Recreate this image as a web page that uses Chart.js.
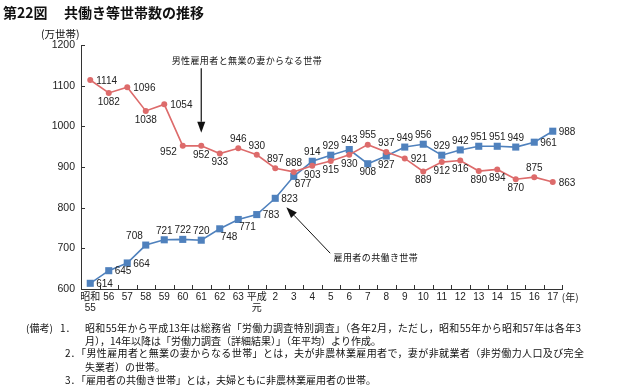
<!DOCTYPE html>
<html><head><meta charset="utf-8">
<script src="https://cdn.jsdelivr.net/npm/chart.js@4"></script>
<style>
html,body{margin:0;padding:0;background:#fff;}
#wrap{position:relative;width:624px;height:391px;overflow:hidden;font-family:"Noto Sans CJK JP",sans-serif;color:#111;}
canvas{position:absolute;left:0;top:0;}
.t{position:absolute;white-space:nowrap;line-height:1;}
.j{position:absolute;text-align:justify;text-align-last:justify;line-height:12px;font-size:10px;height:12px;overflow:visible;}
.n{position:absolute;white-space:nowrap;line-height:12px;font-size:10px;}
</style></head><body>
<div id="wrap">
<canvas id="c" width="624" height="391"></canvas>
<div class="t" style="left:3px;top:5px;font-size:14px;font-weight:bold;">第22図</div>
<div class="t" style="left:64px;top:5px;font-size:14px;font-weight:bold;">共働き等世帯数の推移</div>
<div class="t" style="left:41px;top:29px;font-size:10.5px;">(万世帯)</div>
<div class="n" style="left:26px;top:322px;">(備考)</div>
<div class="n" style="left:60px;top:322px;">1．</div>
<div class="j" style="left:85px;top:322px;width:496px;">昭和55年から平成13年は総務省「労働力調査特別調査」（各年2月，ただし，昭和55年から昭和57年は各年3</div>
<div class="n" style="left:85px;top:335px;">月），14年以降は「労働力調査（詳細結果）」（年平均）より作成。</div>
<div class="n" style="left:65px;top:347px;">2．</div>
<div class="j" style="left:76px;top:347px;width:508px;">「男性雇用者と無業の妻からなる世帯」とは，夫が非農林業雇用者で，妻が非就業者（非労働力人口及び完全</div>
<div class="n" style="left:85px;top:361px;">失業者）の世帯。</div>
<div class="n" style="left:65px;top:374px;">3．</div>
<div class="n" style="left:76px;top:374px;">「雇用者の共働き世帯」とは，夫婦ともに非農林業雇用者の世帯。</div>
</div>
<script>
// ---- data ----
const xLabels = [['昭和','55'],'56','57','58','59','60','61','62','63',['平成','元'],'2','3','4','5','6','7','8','9','10','11','12','13','14','15','16','17'];
const maleEarnerHouseholds = [1114,1082,1096,1038,1054,952,952,933,946,930,897,888,903,915,930,955,937,921,889,912,916,890,894,870,875,863];
const dualIncomeHouseholds = [614,645,664,708,721,722,720,748,771,783,823,877,914,929,943,908,927,949,956,929,942,951,951,949,961,988];
const yTickValues = [600,700,800,900,1000,1100,1200];
const maleLabel = '男性雇用者と無業の妻からなる世帯';
const dualLabel = '雇用者の共働き世帯';
const unitLabel = '(年)';

// label placement codes (style)
const malePos = ['r','b','r','b','r','lb','b','b','a','a','a','a','b','b','b','a','a','r','b','b','b','b','b','b','a','r'];
const dualPos = ['r','r','r','la','a','a','a','rb','rb','r','r','rb','a','a','a','b','b','a','a','a','a','a','a','a','r','r'];

const RED = '#dd6b6b';
const BLUE = '#4f81bd';
const NUMFONT = '"Liberation Sans", Arial, sans-serif';
const JPFONT = '"Noto Sans CJK JP", sans-serif';

const OFF = {
  a:{dx:0,dy:-9,al:'center'}, b:{dx:0,dy:9,al:'center'},
  r:{dx:6,dy:1,al:'left'}, l:{dx:-6,dy:0,al:'right'},
  lb:{dx:-6,dy:6,al:'right'}, la:{dx:-3,dy:-9,al:'right'},
  rb:{dx:1,dy:8,al:'left'}
};

function arrow(ctx,x1,y1,x2,y2,hl,hw){
  const ang=Math.atan2(y2-y1,x2-x1);
  const bx=x2-hl*Math.cos(ang), by=y2-hl*Math.sin(ang);
  ctx.beginPath(); ctx.moveTo(x1,y1); ctx.lineTo(bx,by); ctx.stroke();
  ctx.beginPath(); ctx.moveTo(x2,y2);
  ctx.lineTo(bx+hw/2*Math.sin(ang), by-hw/2*Math.cos(ang));
  ctx.lineTo(bx-hw/2*Math.sin(ang), by+hw/2*Math.cos(ang));
  ctx.closePath(); ctx.fill();
}

const deco = {
  id:'deco',
  afterDraw(chart){
    const {ctx, chartArea:a, scales:{x,y}} = chart;
    ctx.save();
    // inward tick marks
    ctx.strokeStyle='#333'; ctx.lineWidth=1; ctx.beginPath();
    for(let i=0;i<=xLabels.length;i++){
      const px=Math.round(x.getPixelForValue(i-0.5))+0.5;
      ctx.moveTo(px,a.bottom); ctx.lineTo(px,a.bottom-4);
    }
    y.ticks.forEach(t=>{const py=Math.round(y.getPixelForValue(t.value))+0.5; ctx.moveTo(a.left,py); ctx.lineTo(a.left+4,py);});
    ctx.stroke();
    // unit after x labels
    ctx.fillStyle='#222'; ctx.font='10px '+JPFONT; ctx.textAlign='left'; ctx.textBaseline='middle';
    ctx.fillText(unitLabel, x.getPixelForValue(xLabels.length-1)+9, a.bottom+8);
    // data labels
    ctx.font='10px '+NUMFONT; ctx.fillStyle='#222';
    chart.data.datasets.forEach((ds,di)=>{
      const meta=chart.getDatasetMeta(di);
      meta.data.forEach((pt,i)=>{
        const o=OFF[ds.labelPos[i]];
        ctx.textAlign=o.al; ctx.fillText(String(ds.data[i]), pt.x+o.dx, pt.y+o.dy);
      });
    });
    // annotations
    ctx.fillStyle='#111'; ctx.strokeStyle='#111';
    if ('letterSpacing' in ctx) ctx.letterSpacing='0.4px';
    ctx.font='9px '+JPFONT; ctx.textAlign='left';
    ctx.fillText(maleLabel, x.getPixelForValue(4.4), y.getPixelForValue(1161));
    ctx.fillText(dualLabel, x.getPixelForValue(13.15), y.getPixelForValue(678));
    if ('letterSpacing' in ctx) ctx.letterSpacing='0px';
    ctx.lineWidth=1.2;
    arrow(ctx, x.getPixelForValue(6), y.getPixelForValue(1143), x.getPixelForValue(6), y.getPixelForValue(984), 11, 8);
    ctx.lineWidth=1;
    arrow(ctx, x.getPixelForValue(12.97), y.getPixelForValue(688), x.getPixelForValue(10.6), y.getPixelForValue(801), 11, 8);
    ctx.restore();
  }
};

new Chart(document.getElementById('c'), {
  type:'line',
  data:{labels:xLabels, datasets:[
    {label:maleLabel, data:maleEarnerHouseholds, labelPos:malePos, borderColor:RED, backgroundColor:RED, borderWidth:1.6,
     pointStyle:'circle', pointRadius:3, pointBorderWidth:0, tension:0},
    {label:dualLabel, data:dualIncomeHouseholds, labelPos:dualPos, borderColor:BLUE, backgroundColor:BLUE, borderWidth:1.6,
     pointStyle:'rect', pointRadius:5, pointBorderWidth:0, tension:0}
  ]},
  options:{
    responsive:false, animation:false, devicePixelRatio:1,
    layout:{padding:{left:0,right:62,top:45,bottom:0}},
    plugins:{legend:{display:false}, tooltip:{enabled:false}},
    scales:{
      x:{offset:true, grid:{display:false, drawTicks:false}, border:{display:true,color:'#333',width:1},
         ticks:{autoSkip:false, maxRotation:0, padding:3, color:'#222', font:{family:'"Liberation Sans", "Noto Sans CJK JP", sans-serif', size:10, lineHeight:1.05}},
         afterFit:s=>{s.height=102;}},
      y:{min:600, max:1200, grid:{display:false, drawTicks:false}, border:{display:true,color:'#333',width:1},
         afterBuildTicks:s=>{s.ticks=yTickValues.map(v=>({value:v}));},
         ticks:{padding:6, color:'#222', font:{family:NUMFONT, size:10.5}, callback:v=>String(v)},
         afterFit:s=>{s.width=81;}}
    }
  },
  plugins:[deco]
});
</script>
</body></html>
